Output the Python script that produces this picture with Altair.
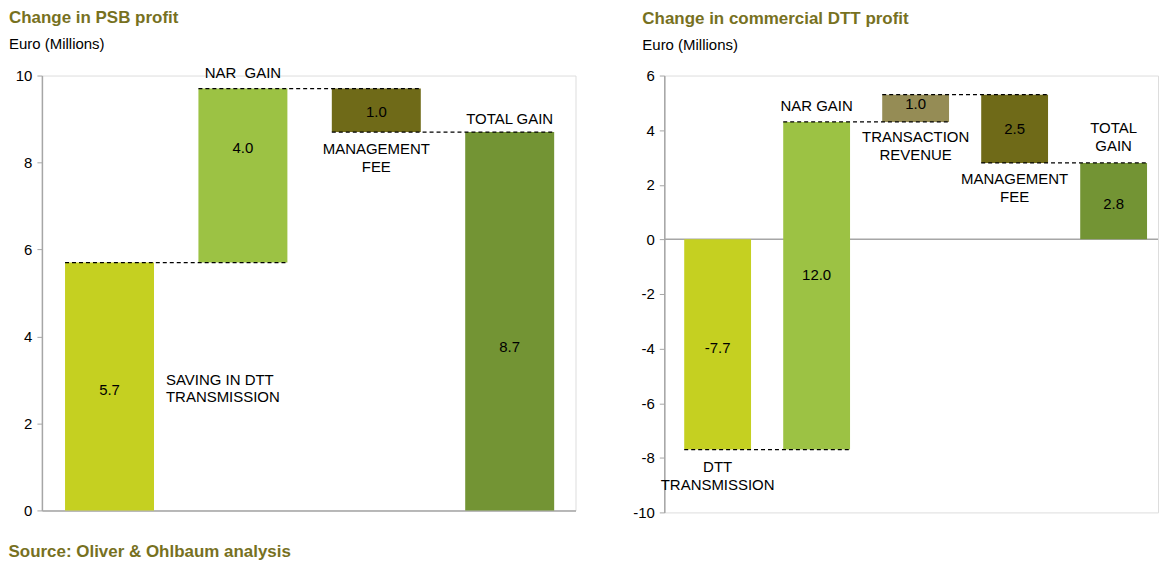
import altair as alt
import pandas as pd

FONT = "Liberation Sans"
OLIVE = "#77711f"
AXIS_GREY = "#a6a6a6"

# ---------------- data: left panel (PSB) ----------------
psb_categories = ["SAVING IN DTT TRANSMISSION", "NAR GAIN", "MANAGEMENT FEE", "TOTAL GAIN"]
psb_changes = [5.7, 4.0, -1.0, 8.7]
psb_is_total = [False, False, False, True]
psb_value_labels = ["5.7", "4.0", "1.0", "8.7"]
psb_value_label_y = [2.78, 8.34, 9.17, 3.75]
psb_names = ["SAVING IN DTT\nTRANSMISSION", "NAR\u00a0 GAIN", "MANAGEMENT\nFEE", "TOTAL GAIN"]
psb_name_y = [3.01, 10.05, 8.30, 8.99]
psb_name_beside = [True, False, False, False]

# ---------------- data: right panel (commercial DTT) ----------------
com_categories = ["DTT TRANSMISSION", "NAR GAIN", "TRANSACTION REVENUE", "MANAGEMENT FEE", "TOTAL GAIN"]
com_changes = [-7.7, 12.0, 1.0, -2.5, 2.8]
com_is_total = [False, False, False, False, True]
com_value_labels = ["-7.7", "12.0", "1.0", "2.5", "2.8"]
com_value_label_y = [-3.97, -1.31, 4.96, 4.05, 1.31]
com_names = ["DTT\nTRANSMISSION", "NAR GAIN", "TRANSACTION\nREVENUE", "MANAGEMENT\nFEE", "TOTAL\nGAIN"]
com_name_y = [-8.35, 4.88, 3.75, 2.22, 4.08]
com_name_beside = [False, False, False, False, False]

color_domain = ["SAVING IN DTT TRANSMISSION", "DTT TRANSMISSION", "NAR GAIN",
                "TRANSACTION REVENUE", "MANAGEMENT FEE", "TOTAL GAIN"]
color_range = ["#c5d021", "#c5d021", "#9cc244", "#958c55", "#6f6a18", "#739434"]


def waterfall(cats, changes, totals):
    rows, level = [], 0.0
    for c, d, t in zip(cats, changes, totals):
        start, end = (0.0, d) if t else (level, round(level + d, 3))
        level = end
        rows.append({"category": c, "start": start, "end": end})
    bars = pd.DataFrame(rows)
    conn = pd.DataFrame([
        {"category": cats[i], "next": cats[i + 1], "level": rows[i]["end"]}
        for i in range(len(cats) - 1)
    ])
    return bars, conn


def panel(cats, changes, totals, vlabels, vlabel_y, names, name_y, beside,
          ydomain, yvalues, width, height, pin, pout, align,
          title_text, title_dx, title_offset, zero_rule):
    bars, conn = waterfall(cats, changes, totals)
    vals = pd.DataFrame({"category": cats, "label": vlabels, "y": vlabel_y})
    nm = pd.DataFrame({"category": cats, "name": names, "y": name_y, "beside": beside})
    nm_center = nm[~nm["beside"]]
    nm_side = nm[nm["beside"]]

    xscale = alt.Scale(domain=cats, paddingInner=pin, paddingOuter=pout, align=align)
    yscale = alt.Scale(domain=ydomain, nice=False, zero=False)
    if zero_rule:
        xaxis = None
    else:
        xaxis = alt.Axis(labels=False, ticks=False, title=None,
                         domainColor=AXIS_GREY, domainWidth=1.5)
    yaxis = alt.Axis(values=yvalues, title=None, grid=False,
                     domainColor=AXIS_GREY, domainWidth=1.5,
                     tickColor=AXIS_GREY, tickSize=5, tickWidth=1,
                     labelFont=FONT, labelFontSize=15, labelColor="black",
                     labelPadding=5, labelExpr="'' + datum.value")

    bar_layer = alt.Chart(bars).mark_bar().encode(
        x=alt.X("category:N", scale=xscale, axis=xaxis, sort=cats),
        y=alt.Y("start:Q", scale=yscale, axis=yaxis),
        y2="end:Q",
        color=alt.Color("category:N", scale=alt.Scale(domain=color_domain, range=color_range),
                        legend=None),
    )
    conn_layer = alt.Chart(conn).mark_rule(
        strokeDash=[4, 3], color="black", strokeWidth=1.2
    ).encode(
        x=alt.X("category:N", bandPosition=0),
        x2=alt.X2("next:N", bandPosition=1),
        y="level:Q",
    )
    val_layer = alt.Chart(vals).mark_text(
        font=FONT, fontSize=15, color="black", baseline="middle"
    ).encode(x="category:N", y="y:Q", text="label:N")
    name_layer = alt.Chart(nm_center).mark_text(
        font=FONT, fontSize=15, color="black", baseline="middle",
        lineBreak="\n", lineHeight=18, align="center"
    ).encode(x="category:N", y="y:Q", text="name:N")
    layers = [bar_layer, conn_layer, val_layer, name_layer]
    if len(nm_side):
        side_layer = alt.Chart(nm_side).mark_text(
            font=FONT, fontSize=15, color="black", baseline="middle",
            lineBreak="\n", lineHeight=18, align="left", dx=12
        ).encode(x=alt.X("category:N", bandPosition=1), y="y:Q", text="name:N")
        layers.append(side_layer)
    if zero_rule:
        zero = alt.Chart(pd.DataFrame({"z": [0]})).mark_rule(
            color=AXIS_GREY, strokeWidth=1.5
        ).encode(y="z:Q")
        layers.insert(0, zero)

    return alt.layer(*layers).properties(
        width=width, height=height,
        title=alt.TitleParams(
            title_text, subtitle="Euro (Millions)", anchor="start", frame="group",
            dx=title_dx, font=FONT, fontSize=17, fontWeight="bold", color=OLIVE,
            subtitleFont=FONT, subtitleFontSize=15, subtitleColor="black",
            subtitlePadding=10, offset=title_offset,
        ),
    )


left = panel(psb_categories, psb_changes, psb_is_total, psb_value_labels, psb_value_label_y,
             psb_names, psb_name_y, psb_name_beside,
             [0, 10], [0, 2, 4, 6, 8, 10], 535, 436, 0.333, 0.1667, 0.52,
             "Change in PSB profit", -33, 13, False)
right = panel(com_categories, com_changes, com_is_total, com_value_labels, com_value_label_y,
              com_names, com_name_y, com_name_beside,
              [-10, 6], [-10, -8, -6, -4, -2, 0, 2, 4, 6], 495, 438, 0.325, 0.156, 0.645,
              "Change in commercial DTT profit", -22, 15, True)

chart = alt.hconcat(left, right, spacing=55).resolve_scale(
    x="independent", y="independent", color="shared"
).properties(
    padding={"left": 0, "top": 0, "right": 0, "bottom": 0},
    title=alt.TitleParams(
        "Source: Oliver & Ohlbaum analysis", orient="bottom", anchor="start",
        font=FONT, fontSize=17, fontWeight="bold", color=OLIVE, offset=23,
    ),
).configure_view(stroke=None).configure(background="white")

chart.save("out.html", embed_options={"renderer": "svg", "actions": False})
